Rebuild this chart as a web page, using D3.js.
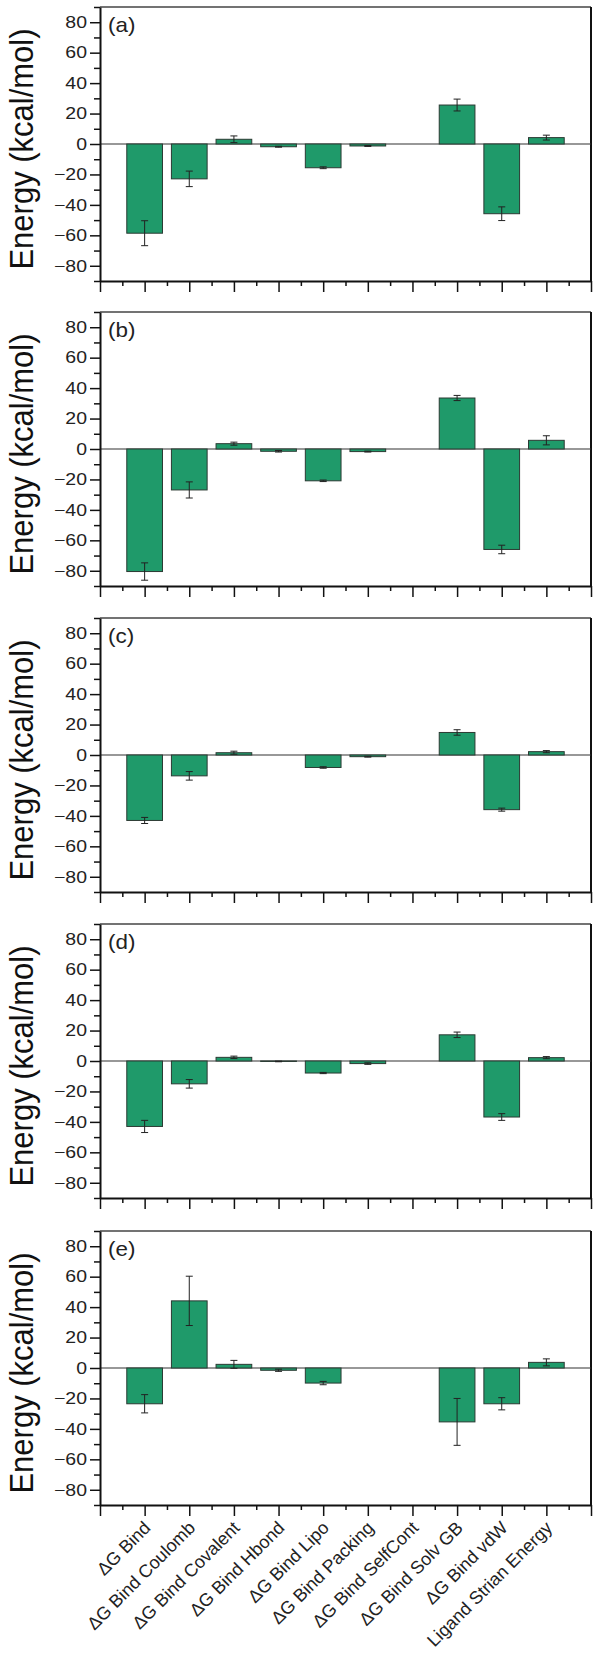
<!DOCTYPE html>
<html><head><meta charset="utf-8">
<script src="https://cdn.jsdelivr.net/npm/d3@7/dist/d3.min.js"></script>
<style>body{margin:0;background:#fff}svg{display:block;font-family:"Liberation Sans",Arial,sans-serif}</style>
</head><body><div id="chart"></div>
<script>
const categories = ["\u0394G Bind","\u0394G Bind Coulomb","\u0394G Bind Covalent","\u0394G Bind Hbond","\u0394G Bind Lipo","\u0394G Bind Packing","\u0394G Bind SelfCont","\u0394G Bind Solv GB","\u0394G Bind vdW","Ligand Strian Energy"];
const panelLabels = ["(a)","(b)","(c)","(d)","(e)"];
const valuesA = [-58.6,-22.9,3.1,-1.8,-15.6,-1.3,0,25.6,-45.8,4.2];
const errorsA = [8.2,5.1,2.2,0.3,0.6,0.3,0,3.9,4.5,1.6];
const valuesB = [-80.5,-26.9,3.5,-1.5,-20.9,-1.7,0,33.5,-66.0,5.7];
const errorsB = [5.7,5.3,1.0,0.5,0.5,0.3,0,1.7,2.8,3.0];
const valuesC = [-43.0,-13.7,1.5,0,-8.2,-1.1,0,14.8,-35.9,2.2];
const errorsC = [2.0,2.8,1.0,0,0.5,0.3,0,1.8,1.0,0.7];
const valuesD = [-43.0,-15.0,2.4,-0.3,-7.9,-1.7,0,17.2,-36.8,2.2];
const errorsD = [4.0,2.8,0.8,0.2,0.4,0.5,0,1.8,2.2,0.7];
const valuesE = [-23.5,44.1,2.4,-1.5,-9.9,0,0,-35.4,-23.5,3.7];
const errorsE = [6.0,16.2,2.6,0.7,1.1,0,0,15.4,4.0,2.3];
const yMajorTicks = [-80,-60,-40,-20,0,20,40,60,80];
const yMinorTicks = [-90,-70,-50,-30,-10,10,30,50,70,90];
const yLabel = "Energy (kcal/mol)";

const panels = [
  {label: panelLabels[0], values: valuesA, errors: errorsA},
  {label: panelLabels[1], values: valuesB, errors: errorsB},
  {label: panelLabels[2], values: valuesC, errors: errorsC},
  {label: panelLabels[3], values: valuesD, errors: errorsD},
  {label: panelLabels[4], values: valuesE, errors: errorsE}
];

const W = 600, H = 1653;
const left = 100, right = 591, panelH = 274;
const tops = [7, 312, 618, 924, 1231];
const barColor = "#1f9a6a";
const sx = 1.18; // horizontal text stretch seen in reference

const svg = d3.select("#chart").append("svg").attr("width", W).attr("height", H);

const x = d3.scaleLinear().domain([0, categories.length + 1]).range([left, right]);
const bw = (x(1) - x(0)) * 0.8;

panels.forEach((p, pi) => {
  const top = tops[pi], bottom = top + panelH;
  const y = d3.scaleLinear().domain([-90, 90]).range([bottom, top]);
  const g = svg.append("g");

  g.append("line").attr("x1", left).attr("x2", right).attr("y1", top).attr("y2", top)
    .attr("stroke", "#444").attr("stroke-width", 1.5);
  g.append("line").attr("x1", right).attr("x2", right).attr("y1", top).attr("y2", bottom)
    .attr("stroke", "#111").attr("stroke-width", 2);

  g.append("line").attr("x1", left).attr("x2", right).attr("y1", y(0)).attr("y2", y(0))
    .attr("stroke", "#333").attr("stroke-width", 1.2);

  const data = categories.map((c, i) => ({c, i, v: p.values[i], e: p.errors[i]}));
  g.selectAll("rect.bar").data(data.filter(d => d.v !== 0)).enter().append("rect")
    .attr("class", "bar")
    .attr("x", d => x(d.i + 1) - bw / 2)
    .attr("width", bw)
    .attr("y", d => y(Math.max(0, d.v)))
    .attr("height", d => Math.abs(y(d.v) - y(0)))
    .attr("fill", barColor).attr("stroke", "#2b3a33").attr("stroke-width", 1);

  const eb = g.selectAll("g.err").data(data.filter(d => d.e > 0)).enter().append("g").attr("class", "err")
    .attr("stroke", "#222").attr("stroke-width", 1);
  eb.append("line").attr("x1", d => x(d.i + 1)).attr("x2", d => x(d.i + 1))
    .attr("y1", d => y(d.v - d.e)).attr("y2", d => y(d.v + d.e));
  eb.append("line").attr("x1", d => x(d.i + 1) - 3.5).attr("x2", d => x(d.i + 1) + 3.5)
    .attr("y1", d => y(d.v - d.e)).attr("y2", d => y(d.v - d.e));
  eb.append("line").attr("x1", d => x(d.i + 1) - 3.5).attr("x2", d => x(d.i + 1) + 3.5)
    .attr("y1", d => y(d.v + d.e)).attr("y2", d => y(d.v + d.e));

  const yAx = g.append("g").attr("transform", `translate(${left},0)`)
    .call(d3.axisLeft(y).tickValues(yMajorTicks).tickSize(10).tickSizeOuter(0).tickPadding(3));
  yAx.select(".domain").attr("stroke", "#111").attr("stroke-width", 2);
  yAx.selectAll(".tick line").attr("stroke", "#111").attr("stroke-width", 1.5);
  yAx.selectAll(".tick text").attr("font-size", 16.5).attr("fill", "#222")
    .attr("font-family", "Liberation Sans, Arial, sans-serif")
    .attr("x", -13 / sx).attr("transform", `scale(${sx},1)`);
  const yMin = g.append("g").attr("transform", `translate(${left},0)`)
    .call(d3.axisLeft(y).tickValues(yMinorTicks).tickSize(6).tickSizeOuter(0).tickFormat(""));
  yMin.select(".domain").remove();
  yMin.selectAll(".tick line").attr("stroke", "#111").attr("stroke-width", 1.5);

  const xMajor = d3.range(0, categories.length + 2);
  const xMinor = d3.range(0, categories.length + 1).map(d => d + 0.5);
  const xAx = g.append("g").attr("transform", `translate(0,${bottom})`)
    .call(d3.axisBottom(x).tickValues(xMajor).tickSize(11).tickSizeOuter(0).tickFormat(""));
  xAx.select(".domain").attr("stroke", "#111").attr("stroke-width", 2);
  xAx.selectAll(".tick line").attr("stroke", "#111").attr("stroke-width", 1.5);
  const xMin = g.append("g").attr("transform", `translate(0,${bottom})`)
    .call(d3.axisBottom(x).tickValues(xMinor).tickSize(5).tickSizeOuter(0).tickFormat(""));
  xMin.select(".domain").remove();
  xMin.selectAll(".tick line").attr("stroke", "#111").attr("stroke-width", 1.5);

  g.append("text").attr("transform", `translate(${left + 8},${top + 25}) scale(1.12,1)`)
    .attr("font-size", 20).attr("fill", "#222")
    .text(p.label);

  g.append("text").attr("transform", `translate(33,${(top + bottom) / 2 + 5}) scale(1.1,1) rotate(-90)`)
    .attr("text-anchor", "middle").attr("font-size", 31).attr("fill", "#111")
    .text(yLabel);

  if (pi === panels.length - 1) {
    g.selectAll("text.cat").data(categories).enter().append("text").attr("class", "cat")
      .attr("text-anchor", "end").attr("font-size", 18).attr("fill", "#222")
      .attr("transform", (d, i) => `translate(${x(i + 1) + 7},${bottom + 24}) rotate(-45)`)
      .text(d => d);
  }
});
</script></body></html>
